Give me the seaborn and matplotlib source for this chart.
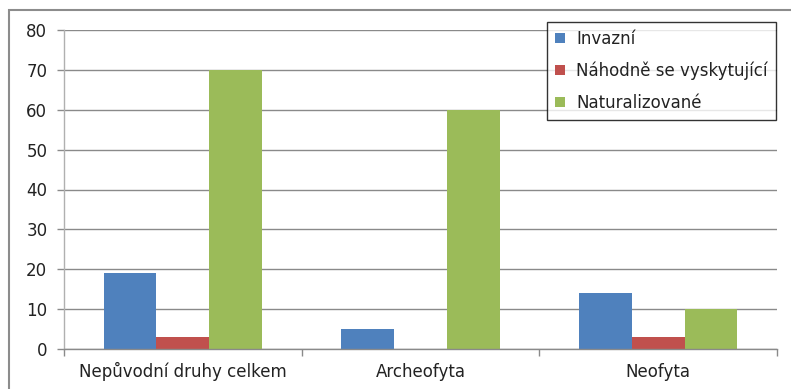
import matplotlib
matplotlib.use("Agg")
import matplotlib.pyplot as plt
import seaborn as sns
import pandas as pd
from matplotlib.patches import Rectangle, Patch

categories = ["Nepůvodní druhy celkem", "Archeofyta", "Neofyta"]
series = ["Invazní", "Náhodně se vyskytující", "Naturalizované"]
invazni = [19, 5, 14]
nahodne = [3, 0, 3]
naturalizovane = [70, 60, 10]
colors = ["#4F81BD", "#C0504D", "#9BBB59"]
y_ticks = [0, 10, 20, 30, 40, 50, 60, 70, 80]

df = pd.DataFrame({
    "kategorie": categories * 3,
    "skupina": [series[0]] * 3 + [series[1]] * 3 + [series[2]] * 3,
    "pocet": invazni + nahodne + naturalizovane,
})

sns.set_theme(style="white")
plt.rcParams["font.family"] = ["DejaVu Sans"]

W, H = 791, 389
FS = 12
fig = plt.figure(figsize=(W / 100, H / 100), dpi=100)
fig.patch.set_facecolor("white")

# outer chart frame
fig.add_artist(Rectangle((9 / W, -0.1), 1.2, 1 - 10 / H + 0.1, transform=fig.transFigure,
                         fill=False, edgecolor="#8c8c8c", linewidth=1.5))

ax = fig.add_axes([64 / W, 1 - 349 / H, 713 / W, 319 / H])
sns.barplot(data=df, x="kategorie", y="pocet", hue="skupina", order=categories,
            hue_order=series, palette=colors, width=0.667, saturation=1,
            edgecolor="none", linewidth=0, ax=ax, legend=False)

ax.set_ylim(0, 80)
ax.set_xlim(-0.5, 2.5)
ax.set_yticks(y_ticks)
ax.set_yticklabels([str(v) for v in y_ticks])
ax.set_xlabel("")
ax.set_ylabel("")
ax.yaxis.grid(True, color="#8a8a8a", linewidth=1)
ax.set_axisbelow(True)

for s in ["top", "right"]:
    ax.spines[s].set_visible(False)
ax.spines["left"].set_color("#b0b0b0")
ax.spines["bottom"].set_color("#8a8a8a")
ax.spines["left"].set_linewidth(1)
ax.spines["bottom"].set_linewidth(1)

ax.tick_params(axis="y", left=True, length=5, width=1, color="#8a8a8a",
               labelsize=FS, labelcolor="#222222", pad=7)
ax.tick_params(axis="x", which="major", bottom=True, length=0, labelsize=FS,
               labelcolor="#222222", pad=20)
for lbl in ax.get_xticklabels():
    lbl.set_verticalalignment("baseline")
ax.set_xticks([-0.5, 0.5, 1.5, 2.5], minor=True)
ax.tick_params(axis="x", which="minor", bottom=True, length=5, width=1, color="#8a8a8a")

handles = [Patch(facecolor=c, edgecolor="none") for c in colors]
leg = fig.legend(handles, series, loc="upper left", bbox_to_anchor=(547 / W, 1 - 22 / H),
                 frameon=True, fancybox=False, fontsize=FS, handlelength=0.55,
                 handleheight=0.55, handletextpad=0.7, labelspacing=0.8,
                 borderpad=0.5, borderaxespad=0)
leg.get_frame().set_edgecolor("black")
leg.get_frame().set_linewidth(1)
leg.get_frame().set_facecolor("white")
for t in leg.get_texts():
    t.set_color("#222222")

fig.savefig("out.png", dpi=100)
